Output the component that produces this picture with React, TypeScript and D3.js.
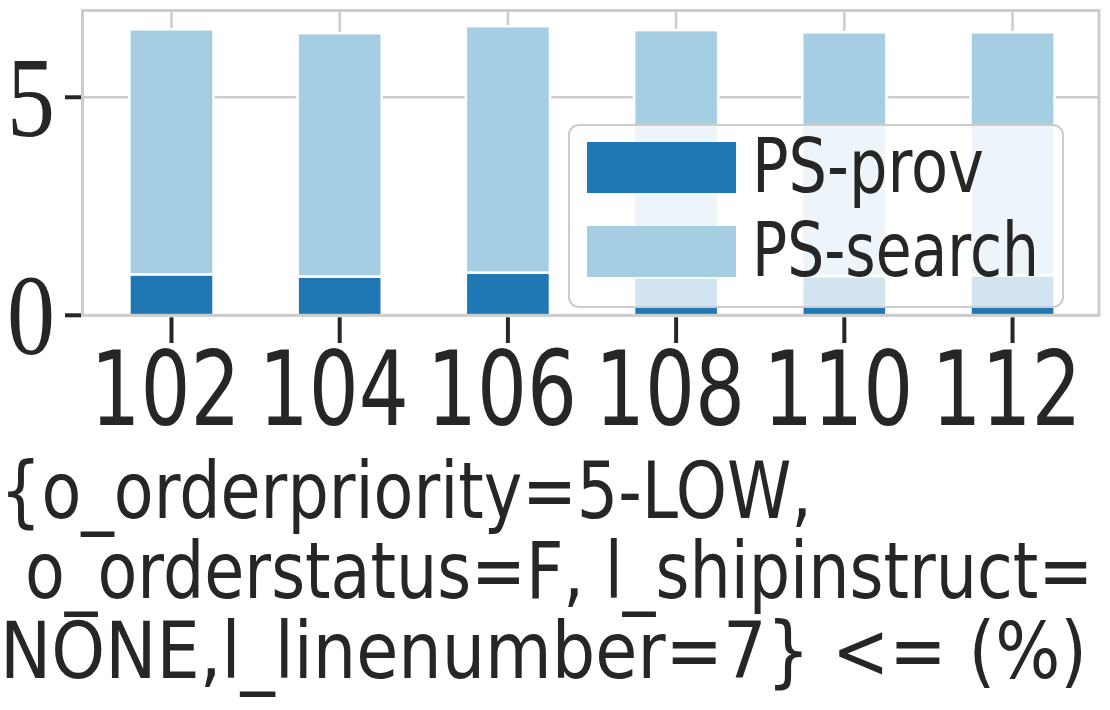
import React from "react";
import * as d3 from "d3";

const categories = ["102", "104", "106", "108", "110", "112"];
const provValues = [0.94, 0.89, 0.98, 0.87, 0.9, 0.92];
const searchValues = [5.62, 5.58, 5.65, 5.67, 5.59, 5.57];
const yTicks = [0, 5];
const seriesNames = ["PS-prov", "PS-search"];
const seriesColors = ["#1f78b4", "#a6cee3"];
const titleLines = [
  "{o_orderpriority=5-LOW,",
  "o_orderstatus=F, l_shipinstruct=",
  "NONE,l_linenumber=7} <= (%)",
];

const W = 1110;
const H = 710;
const left = 82.5;
const right = 1099;
const top = 10.5;
const bottom = 315.3;
const grid = "#cccccc";
const ink = "#262626";
const sans = "'DejaVu Sans', sans-serif";
const serif = "'Liberation Serif', 'Times New Roman', 'DejaVu Serif', serif";

export default function App() {
  const x = d3.scaleLinear().domain([-0.529, 5.514]).range([left, right]);
  const y = d3.scaleLinear().domain([0, 6.99]).range([bottom, top]);
  const barW = x(0.5) - x(0);

  const rows = categories.map((c, i) => ({ c, i, prov: provValues[i], search: searchValues[i] }));
  const stack = d3.stack<any>().keys(["prov", "search"])(rows as any);

  const titleX = [0, 25, 0];
  const titleLen = [812, 1068, 1087];
  const titleY = [518, 598, 678];

  return (
    <svg width={W} height={H} style={{ position: "absolute", left: 0, top: 0, background: "#fff" }}>
      {/* grid */}
      {yTicks.map((t) => (
        <line key={"gy" + t} x1={left} x2={right} y1={y(t)} y2={y(t)} stroke={grid} strokeWidth={2.5} />
      ))}
      {categories.map((c, i) => (
        <line key={"gx" + c} x1={x(i)} x2={x(i)} y1={top} y2={bottom} stroke={grid} strokeWidth={2.5} />
      ))}
      {/* bars */}
      {stack.map((s, si) => (
        <g key={"s" + si}>
          {s.map((d, i) => (
            <rect
              key={i}
              x={x(i) - barW / 2}
              width={barW}
              y={y(d[1])}
              height={y(d[0]) - y(d[1])}
              fill={seriesColors[si]}
              stroke="#ffffff"
              strokeWidth={2.5}
            />
          ))}
        </g>
      ))}
      {/* spines */}
      <rect x={left} y={top} width={right - left} height={bottom - top} fill="none" stroke={grid} strokeWidth={3} />
      {/* y ticks */}
      {yTicks.map((t) => (
        <g key={"yt" + t}>
          <line x1={65} x2={left - 1.5} y1={y(t)} y2={y(t)} stroke={ink} strokeWidth={4} />
          <text
            x={7}
            y={y(t) + 38.5}
            fontFamily={serif}
            fontSize={114}
            fill={ink}
            textLength={48}
            lengthAdjust="spacingAndGlyphs"
          >
            {t}
          </text>
        </g>
      ))}
      {/* x ticks */}
      {categories.map((c, i) => (
        <g key={"xt" + c}>
          <line x1={x(i)} x2={x(i)} y1={bottom + 2} y2={343} stroke={ink} strokeWidth={4} />
          <text
            x={x(i) - 6 - 75}
            y={425}
            fontFamily={sans}
            fontSize={104}
            fill={ink}
            textLength={150}
            lengthAdjust="spacingAndGlyphs"
          >
            {c}
          </text>
        </g>
      ))}
      {/* legend */}
      <rect x={569} y={125} width={494} height={182} rx={10} ry={10} fill="#ffffff" fillOpacity={0.8} stroke={grid} strokeWidth={2} />
      {seriesNames.map((n, i) => (
        <g key={"lg" + n}>
          <rect x={587} y={142 + i * 84} width={149} height={51} fill={seriesColors[i]} />
          <text
            x={752}
            y={192 + i * 84}
            fontFamily={sans}
            fontSize={74}
            fill={ink}
            textLength={i === 0 ? 232 : 287}
            lengthAdjust="spacingAndGlyphs"
          >
            {n}
          </text>
        </g>
      ))}
      {/* x label */}
      {titleLines.map((l, i) => (
        <text
          key={"t" + i}
          x={titleX[i]}
          y={titleY[i]}
          fontFamily={sans}
          fontSize={78}
          fill={ink}
          textLength={titleLen[i]}
          lengthAdjust="spacingAndGlyphs"
        >
          {l}
        </text>
      ))}
    </svg>
  );
}
